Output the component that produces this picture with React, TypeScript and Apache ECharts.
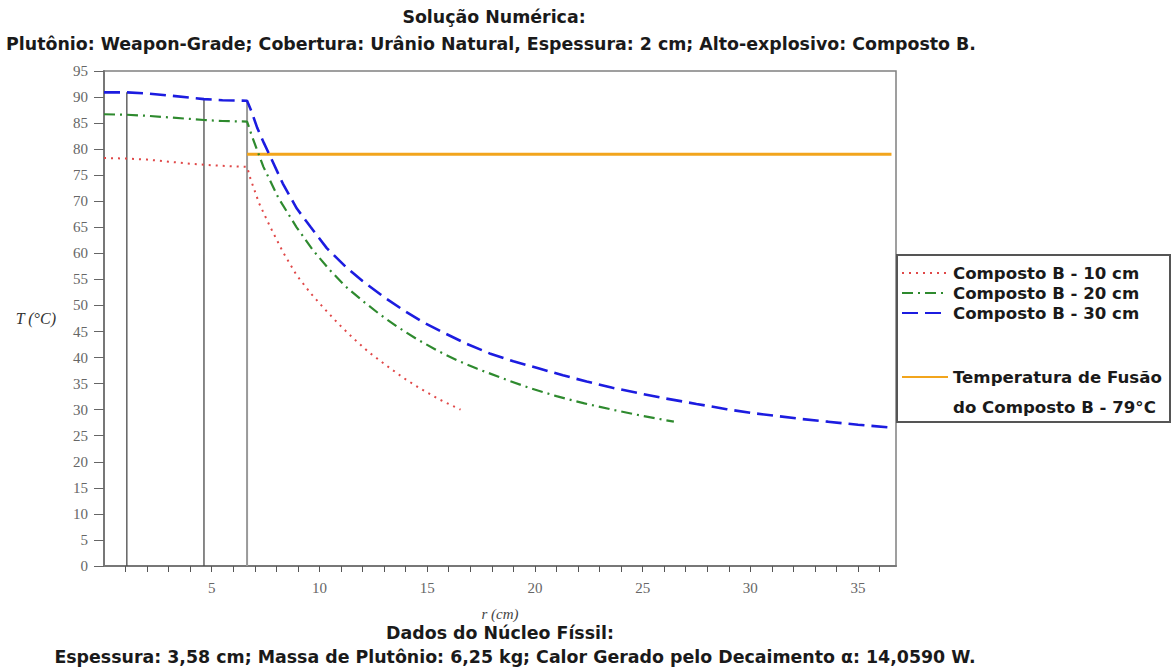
import React, { useEffect, useRef } from "react";
import * as echarts from "echarts";

// Radial temperature profiles: r (cm) and T (°C) for each explosive thickness
const r10 = [0, 1.06, 2.0, 3.0, 4.0, 4.64, 5.5, 6.64, 6.8, 7.2, 7.7, 8.3, 8.94, 9.6, 10.2, 10.9, 11.57, 12.3, 13.1, 13.9, 14.66, 15.6, 16.55];
const t10 = [78.3, 78.2, 78.0, 77.6, 77.2, 77.0, 76.8, 76.6, 74.3, 69.6, 65.2, 60.3, 55.8, 52.3, 49.5, 46.4, 43.7, 41.0, 38.5, 36.1, 34.1, 31.9, 30.0];

const r20 = [0, 1.06, 2.0, 3.0, 4.0, 4.64, 5.5, 6.64, 6.85, 7.1, 7.4, 8.1, 8.94, 9.7, 10.48, 11.2, 12.03, 12.8, 13.58, 14.5, 15.44, 16.37, 17.3, 18.7, 19.8, 21.0, 22.3, 23.6, 25.0, 26.45];
const t20 = [86.7, 86.6, 86.4, 86.1, 85.8, 85.6, 85.4, 85.3, 82.7, 79.9, 76.6, 70.6, 65.0, 60.6, 56.8, 53.7, 50.8, 48.3, 46.0, 43.6, 41.4, 39.5, 37.9, 35.7, 34.1, 32.6, 31.2, 30.0, 28.8, 27.7];

const r30 = [0, 1.06, 2.0, 3.0, 4.0, 4.64, 5.5, 6.64, 6.85, 7.12, 7.42, 7.75, 8.3, 8.95, 9.6, 10.34, 11.2, 12.0, 13.0, 13.9, 14.8, 15.7, 16.8, 17.9, 19.0, 20.2, 21.3, 22.4, 23.6, 24.9, 26.0, 27.5, 28.9, 30.0, 31.2, 32.4, 33.6, 35.0, 36.45];
const t30 = [90.9, 90.9, 90.7, 90.3, 89.9, 89.6, 89.4, 89.3, 87.2, 84.0, 81.2, 78.3, 73.4, 68.6, 65.0, 61.0, 57.5, 54.7, 51.6, 49.1, 46.8, 44.9, 42.7, 40.8, 39.3, 37.9, 36.6, 35.4, 34.2, 33.1, 32.2, 31.1, 30.1, 29.4, 28.8, 28.2, 27.7, 27.1, 26.6];

// Layer boundaries (cavity / fissile core / tamper) and the height each marker reaches
const boundaryR = [1.06, 4.64, 6.64];
const boundaryTop = [90.9, 89.6, 89.2];

// Melting temperature of Composition B, drawn across the explosive region
const meltTemp = 79;
const meltFrom = 6.64;
const meltTo = 36.55;

const seriesNames = ["Composto B - 10 cm", "Composto B - 20 cm", "Composto B - 30 cm"];
const meltName = "Temperatura de Fusão do Composto B - 79°C";

const zip = (xs: number[], ys: number[]) => xs.map((x, i) => [x, ys[i]]);

const textFont = "'DejaVu Sans'";
const axisFont = "Liberation Serif";
const titleSize = 17.4;
const legendSize = 16.6;

export default function App() {
  const ref = useRef<HTMLDivElement>(null);

  useEffect(() => {
    if (!ref.current) return;
    const chart = echarts.init(ref.current, undefined, { renderer: "svg" });

    const boldText = (text: string, x: number, y: number, size: number, align = "center") => ({
      type: "text",
      x,
      y,
      style: {
        text,
        fill: "#1a1a1a",
        font: `bold ${size}px ${textFont}`,
        textAlign: align,
        textVerticalAlign: "middle",
      },
      silent: true,
    });

    const legendText = {
      fontFamily: "DejaVu Sans",
      fontWeight: "bold",
      fontSize: legendSize,
      color: "#1a1a1a",
      lineHeight: 20,
    };

    const legendCommon = {
      orient: "vertical",
      left: 901,
      padding: 0,
      itemWidth: 46,
      itemHeight: 14,
      itemGap: 0,
      selectedMode: false,
      itemStyle: { opacity: 0 },
      textStyle: legendText,
    };

    const option: any = {
      animation: false,
      backgroundColor: "#ffffff",
      grid: {
        left: 104,
        right: 276,
        top: 71,
        bottom: 106,
        containLabel: false,
        outerBoundsMode: "none",
        show: true,
        borderColor: "#808080",
        borderWidth: 1.5,
      },
      xAxis: {
        type: "value",
        min: 0,
        max: 36.76,
        interval: 1,
        name: "r (cm)",
        nameLocation: "middle",
        nameGap: 40,
        nameTextStyle: { fontFamily: axisFont, fontStyle: "italic", fontSize: 15, color: "#444" },
        axisLine: { lineStyle: { color: "#777", width: 2 } },
        axisTick: { length: 6, lineStyle: { color: "#555", width: 1 } },
        axisLabel: {
          showMinLabel: false,
          showMaxLabel: false,
          margin: 14,
          fontFamily: axisFont,
          fontSize: 15,
          color: "#666",
          formatter: (v: number) => {
            const k = Math.round(v / 5) * 5;
            return v > 0 && Math.abs(v - k) < 1e-6 ? String(k) : "";
          },
        },
        splitLine: { show: false },
      },
      yAxis: {
        type: "value",
        min: 0,
        max: 95,
        interval: 5,
        name: "T (°C)",
        nameLocation: "middle",
        nameRotate: 0,
        nameGap: 48,
        nameTextStyle: { fontFamily: axisFont, fontStyle: "italic", fontSize: 16, color: "#333" },
        axisLine: { show: true, lineStyle: { color: "#777", width: 2 } },
        axisTick: { show: true, length: 10, lineStyle: { color: "#666", width: 1 } },
        axisLabel: { margin: 16, fontFamily: axisFont, fontSize: 15, color: "#666" },
        splitLine: { show: false },
      },
      legend: [
        { ...legendCommon, data: seriesNames, top: 263 },
        {
          ...legendCommon,
          data: [meltName],
          top: 367,
          formatter: () => "Temperatura de Fusão",
        },
      ],
      graphic: [
        boldText("Solução Numérica:", 494, 17, titleSize),
        boldText(
          "Plutônio: Weapon-Grade; Cobertura: Urânio Natural, Espessura: 2 cm; Alto-explosivo: Composto B.",
          491,
          44,
          titleSize
        ),
        boldText("Dados do Núcleo Físsil:", 500, 633, titleSize),
        boldText(
          "Espessura: 3,58 cm; Massa de Plutônio: 6,25 kg; Calor Gerado pelo Decaimento α: 14,0590 W.",
          515,
          657,
          titleSize
        ),
        {
          type: "rect",
          shape: { x: 897, y: 255, width: 273, height: 167 },
          style: { fill: "none", stroke: "#555", lineWidth: 2 },
          silent: true,
        },
        boldText("do Composto B - 79°C", 953, 407, legendSize, "left"),
      ],
      series: [
        {
          name: "bounds-dark",
          type: "line",
          symbol: "none",
          silent: true,
          z: 1,
          lineStyle: { color: "#4a4a4a", width: 1.3 },
          data: [
            [boundaryR[0], 0],
            [boundaryR[0], boundaryTop[0]],
            ["-", "-"],
            [boundaryR[1], 0],
            [boundaryR[1], boundaryTop[1]],
          ],
        },
        {
          name: "bounds-light",
          type: "line",
          symbol: "none",
          silent: true,
          z: 1,
          lineStyle: { color: "#9a9a9a", width: 2 },
          data: [
            [boundaryR[2], 0],
            [boundaryR[2], boundaryTop[2]],
          ],
        },
        {
          name: meltName,
          type: "line",
          symbol: "none",
          z: 2,
          lineStyle: { color: "#f2a51c", width: 3, type: "solid" },
          itemStyle: { color: "#f2a51c" },
          data: [
            [meltFrom, meltTemp],
            [meltTo, meltTemp],
          ],
        },
        {
          name: seriesNames[0],
          type: "line",
          symbol: "none",
          z: 3,
          lineStyle: { color: "#e04848", width: 2, type: [2, 5] },
          itemStyle: { color: "#e04848" },
          data: zip(r10, t10),
        },
        {
          name: seriesNames[1],
          type: "line",
          symbol: "none",
          z: 3,
          lineStyle: { color: "#2e8a2e", width: 2.2, type: [11, 5, 2, 5] },
          itemStyle: { color: "#2e8a2e" },
          data: zip(r20, t20),
        },
        {
          name: seriesNames[2],
          type: "line",
          symbol: "none",
          z: 3,
          lineStyle: { color: "#1c1ce0", width: 2.6, type: [16, 7] },
          itemStyle: { color: "#1c1ce0" },
          data: zip(r30, t30),
        },
      ],
    };

    chart.setOption(option);
    return () => chart.dispose();
  }, []);

  return <div ref={ref} style={{ width: 1172, height: 672, position: "absolute", left: 0, top: 0 }} />;
}
